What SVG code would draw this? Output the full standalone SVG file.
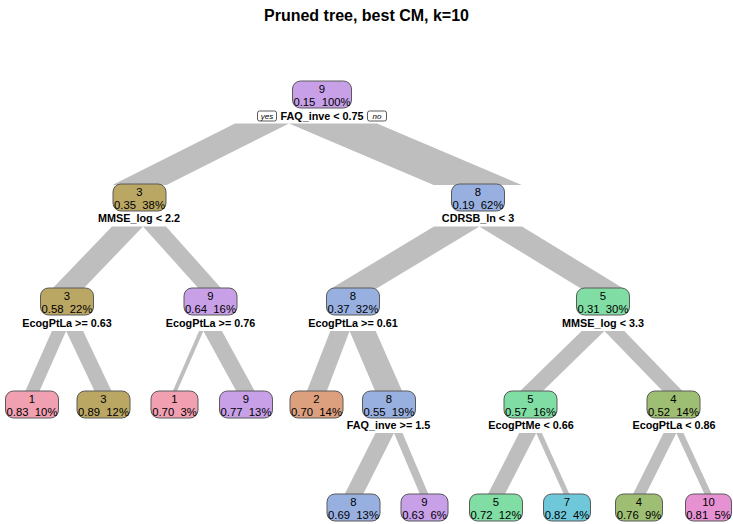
<svg xmlns="http://www.w3.org/2000/svg" width="733" height="524" viewBox="0 0 733 524">
  <style>
    .br { fill: #bebebe; stroke: none; }
    .box { stroke: #5a5a5a; stroke-width: 1; }
    .t { font-family: "Liberation Sans", Arial, sans-serif; font-size: 11.3px; text-anchor: middle; fill: #000; white-space: pre; }
    .lbl { font-family: "Liberation Sans", Arial, sans-serif; font-size: 10.8px; font-weight: bold; text-anchor: middle; fill: #000; }
    .title { font-family: "Liberation Sans", Arial, sans-serif; font-size: 16px; font-weight: bold; text-anchor: middle; fill: #000; }
    .yn { font-family: "Liberation Sans", Arial, sans-serif; font-size: 8px; font-style: italic; text-anchor: middle; fill: #000; }
    .ynbox { fill: #fff; stroke: #333; stroke-width: 0.8; }
    .c9 { fill: #c8a0e8; }
    .c3 { fill: #bba764; }
    .c1 { fill: #f1a0b2; }
    .c8 { fill: #98b0e0; }
    .c2 { fill: #dda07f; }
    .c5 { fill: #80dda3; }
    .c7 { fill: #6fc8da; }
    .c4 { fill: #9ebe73; }
    .c10 { fill: #e691d2; }
  </style>
  <rect width="733" height="524" fill="#ffffff"/>

  <text class="title" x="366.5" y="21">Pruned tree, best CM, k=10</text>

  <!-- branches: widths proportional to the share of observations -->
  <g id="connectors">
    <polygon class="br" points="235,123.5 289,123.5 166.5,185 112.5,185"/>
    <polygon class="br" points="289,123.5 377,123.5 521.7,185 433.7,185"/>

    <polygon class="br" points="112,226.5 143,226.5 83,289 52,289"/>
    <polygon class="br" points="143,226.5 166,226.5 221.9,289 199.1,289"/>
    <polygon class="br" points="434,226.5 479.4,226.5 375.7,289 330.3,289"/>
    <polygon class="br" points="479.4,226.5 522,226.5 624.3,289 581.7,289"/>

    <polygon class="br" points="51.9,331 66.1,331 39.1,392 24.9,392"/>
    <polygon class="br" points="66.1,331 83.1,331 112,392 95,392"/>
    <polygon class="br" points="199.1,331 203.4,331 176.65,392 172.35,392"/>
    <polygon class="br" points="203.4,331 221.9,331 255.25,392 236.75,392"/>
    <polygon class="br" points="330.3,331 349.6,331 326.45,392 306.55,392"/>
    <polygon class="br" points="349.6,331 375.7,331 402.5,392 375.5,392"/>
    <polygon class="br" points="581.7,331 604.4,331 541.85,392 519.15,392"/>
    <polygon class="br" points="604.4,331 624.3,331 683.45,392 663.55,392"/>

    <polygon class="br" points="375.5,433 394,433 362.75,495 344.25,495"/>
    <polygon class="br" points="394,433 402.5,433 428.75,495 420.25,495"/>
    <polygon class="br" points="519.15,433 536.2,433 504.5,495 487.5,495"/>
    <polygon class="br" points="536.2,433 541.85,433 569.85,495 564.15,495"/>
    <polygon class="br" points="663.55,433 676.3,433 645.4,495 632.6,495"/>
    <polygon class="br" points="676.3,433 683.45,433 712.05,495 704.95,495"/>
  </g>

  <!-- root -->
  <g id="node-root">
    <rect class="box c9" x="292.5" y="81" width="59" height="27" rx="8"/>
    <text class="t" x="322" y="93">9</text>
    <text class="t" x="322" y="106">0.15  100%</text>
    <rect class="ynbox" x="257.5" y="111" width="19" height="10" rx="2"/>
    <text class="yn" x="267" y="119">yes</text>
    <text class="lbl" x="322" y="120">FAQ_inve &lt; 0.75</text>
    <rect class="ynbox" x="367.5" y="111" width="19" height="10" rx="2"/>
    <text class="yn" x="377" y="119">no</text>
  </g>

  <!-- level 1 -->
  <g id="node-3">
    <rect class="box c3" x="113" y="184" width="53" height="27" rx="8"/>
    <text class="t" x="139.5" y="196">3</text>
    <text class="t" x="139.5" y="209">0.35  38%</text>
    <text class="lbl" x="139" y="221.5">MMSE_log &lt; 2.2</text>
  </g>
  <g id="node-8">
    <rect class="box c8" x="451.5" y="184" width="53" height="27" rx="8"/>
    <text class="t" x="478" y="196">8</text>
    <text class="t" x="478" y="209">0.19  62%</text>
    <text class="lbl" x="478" y="221.5">CDRSB_ln &lt; 3</text>
  </g>

  <!-- level 2 -->
  <g id="node-3a">
    <rect class="box c3" x="40.5" y="288" width="53" height="27" rx="8"/>
    <text class="t" x="67" y="300">3</text>
    <text class="t" x="67" y="313">0.58  22%</text>
    <text class="lbl" x="67" y="326.5">EcogPtLa &gt;= 0.63</text>
  </g>
  <g id="node-9a">
    <rect class="box c9" x="184" y="288" width="53" height="27" rx="8"/>
    <text class="t" x="210.5" y="300">9</text>
    <text class="t" x="210.5" y="313">0.64  16%</text>
    <text class="lbl" x="210.5" y="326.5">EcogPtLa &gt;= 0.76</text>
  </g>
  <g id="node-8a">
    <rect class="box c8" x="326.5" y="288" width="53" height="27" rx="8"/>
    <text class="t" x="353" y="300">8</text>
    <text class="t" x="353" y="313">0.37  32%</text>
    <text class="lbl" x="353" y="326.5">EcogPtLa &gt;= 0.61</text>
  </g>
  <g id="node-5a">
    <rect class="box c5" x="576.5" y="288" width="53" height="27" rx="8"/>
    <text class="t" x="603" y="300">5</text>
    <text class="t" x="603" y="313">0.31  30%</text>
    <text class="lbl" x="603" y="326.5">MMSE_log &lt; 3.3</text>
  </g>

  <!-- level 3 -->
  <g id="leaf-1a">
    <rect class="box c1" x="5.5" y="391" width="53" height="27" rx="8"/>
    <text class="t" x="32" y="403">1</text>
    <text class="t" x="32" y="416">0.83  10%</text>
  </g>
  <g id="leaf-3b">
    <rect class="box c3" x="77" y="391" width="53" height="27" rx="8"/>
    <text class="t" x="103.5" y="403">3</text>
    <text class="t" x="103.5" y="416">0.89  12%</text>
  </g>
  <g id="leaf-1b">
    <rect class="box c1" x="151" y="391" width="47" height="27" rx="8"/>
    <text class="t" x="174.5" y="403">1</text>
    <text class="t" x="174.5" y="416">0.70  3%</text>
  </g>
  <g id="leaf-9b">
    <rect class="box c9" x="219.5" y="391" width="53" height="27" rx="8"/>
    <text class="t" x="246" y="403">9</text>
    <text class="t" x="246" y="416">0.77  13%</text>
  </g>
  <g id="leaf-2">
    <rect class="box c2" x="290" y="391" width="53" height="27" rx="8"/>
    <text class="t" x="316.5" y="403">2</text>
    <text class="t" x="316.5" y="416">0.70  14%</text>
  </g>
  <g id="node-8b">
    <rect class="box c8" x="362.5" y="391" width="53" height="27" rx="8"/>
    <text class="t" x="389" y="403">8</text>
    <text class="t" x="389" y="416">0.55  19%</text>
    <text class="lbl" x="388.5" y="428.5">FAQ_inve &gt;= 1.5</text>
  </g>
  <g id="node-5b">
    <rect class="box c5" x="504" y="391" width="53" height="27" rx="8"/>
    <text class="t" x="530.5" y="403">5</text>
    <text class="t" x="530.5" y="416">0.57  16%</text>
    <text class="lbl" x="531" y="428.5">EcogPtMe &lt; 0.66</text>
  </g>
  <g id="node-4a">
    <rect class="box c4" x="647" y="391" width="53" height="27" rx="8"/>
    <text class="t" x="673.5" y="403">4</text>
    <text class="t" x="673.5" y="416">0.52  14%</text>
    <text class="lbl" x="674" y="428.5">EcogPtLa &lt; 0.86</text>
  </g>

  <!-- level 4 -->
  <g id="leaf-8c">
    <rect class="box c8" x="327" y="494" width="53" height="27" rx="8"/>
    <text class="t" x="353.5" y="506">8</text>
    <text class="t" x="353.5" y="519">0.69  13%</text>
  </g>
  <g id="leaf-9c">
    <rect class="box c9" x="401" y="494" width="47" height="27" rx="8"/>
    <text class="t" x="424.5" y="506">9</text>
    <text class="t" x="424.5" y="519">0.63  6%</text>
  </g>
  <g id="leaf-5c">
    <rect class="box c5" x="469.5" y="494" width="53" height="27" rx="8"/>
    <text class="t" x="496" y="506">5</text>
    <text class="t" x="496" y="519">0.72  12%</text>
  </g>
  <g id="leaf-7">
    <rect class="box c7" x="543.5" y="494" width="47" height="27" rx="8"/>
    <text class="t" x="567" y="506">7</text>
    <text class="t" x="567" y="519">0.82  4%</text>
  </g>
  <g id="leaf-4b">
    <rect class="box c4" x="615.5" y="494" width="47" height="27" rx="8"/>
    <text class="t" x="639" y="506">4</text>
    <text class="t" x="639" y="519">0.76  9%</text>
  </g>
  <g id="leaf-10">
    <rect class="box c10" x="685.5" y="494" width="46" height="27" rx="8"/>
    <text class="t" x="708.5" y="506">10</text>
    <text class="t" x="708.5" y="519">0.81  5%</text>
  </g>
</svg>
